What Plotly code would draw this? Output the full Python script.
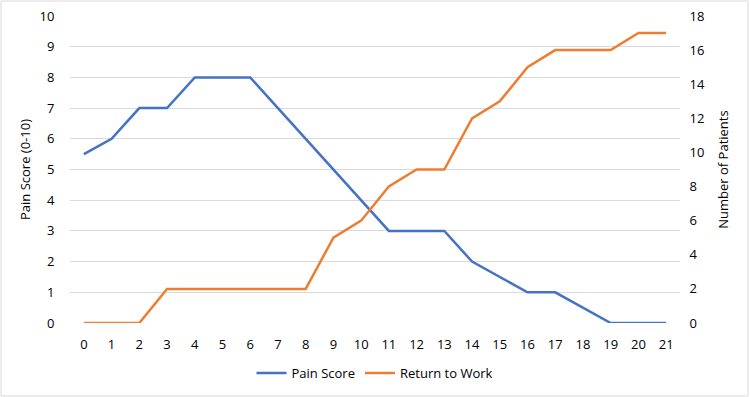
import plotly.graph_objects as go

weeks = list(range(22))
pain_score = [5.5, 6, 7, 7, 8, 8, 8, 7, 6, 5, 4, 3, 3, 3, 2, 1.5, 1, 1, 0.5, 0, 0, 0]
return_to_work = [0, 0, 0, 2, 2, 2, 2, 2, 2, 5, 6, 8, 9, 9, 12, 13, 15, 16, 16, 16, 17, 17]

font = dict(family="Open Sans, Liberation Sans, sans-serif", size=13, color="#000000")

fig = go.Figure()
fig.add_trace(go.Scatter(x=weeks, y=pain_score, mode="lines", name="Pain Score",
                         line=dict(color="#4472C4", width=2.5)))
fig.add_trace(go.Scatter(x=weeks, y=return_to_work, mode="lines", name="Return to Work",
                         line=dict(color="#ED7D31", width=2.5), yaxis="y2"))

fig.update_layout(
    width=750, height=397,
    margin=dict(l=70, r=70, t=16, b=74, autoexpand=False),
    paper_bgcolor="white", plot_bgcolor="white",
    font=font,
    xaxis=dict(range=[-0.5, 21.5], tickmode="array", tickvals=weeks,
               ticktext=[str(w) for w in weeks], showgrid=False, zeroline=False,
               showline=False, ticks="outside", ticklen=9, tickcolor="white",
               automargin=False),
    yaxis=dict(range=[0, 10], dtick=1, showgrid=True, gridcolor="#D9D9D9", gridwidth=1,
               zeroline=False, showline=False, automargin=False,
               title=dict(text="Pain Score (0-10)", font=dict(size=13), standoff=5),
               ticks="outside", ticklen=12, tickcolor="white"),
    yaxis2=dict(range=[0, 18], dtick=2, overlaying="y", side="right", showgrid=False,
                zeroline=False, showline=False, automargin=False,
                title=dict(text="Number of Patients", font=dict(size=13), standoff=14),
                ticks="outside", ticklen=6, tickcolor="white"),
    legend=dict(orientation="h", x=0.5, xanchor="center", y=-0.114, yanchor="top",
                font=dict(size=13), itemwidth=30, bgcolor="rgba(0,0,0,0)"),
    shapes=[dict(type="rect", xref="paper", yref="paper", x0=-69/610, x1=1+68/610,
                 y0=-73/307, y1=1+15/307, line=dict(color="#D9D9D9", width=1))],
)

fig.write_html("out.html", config={"displayModeBar": False},
               post_script="document.body.style.margin='0';document.body.style.overflow='hidden';")
